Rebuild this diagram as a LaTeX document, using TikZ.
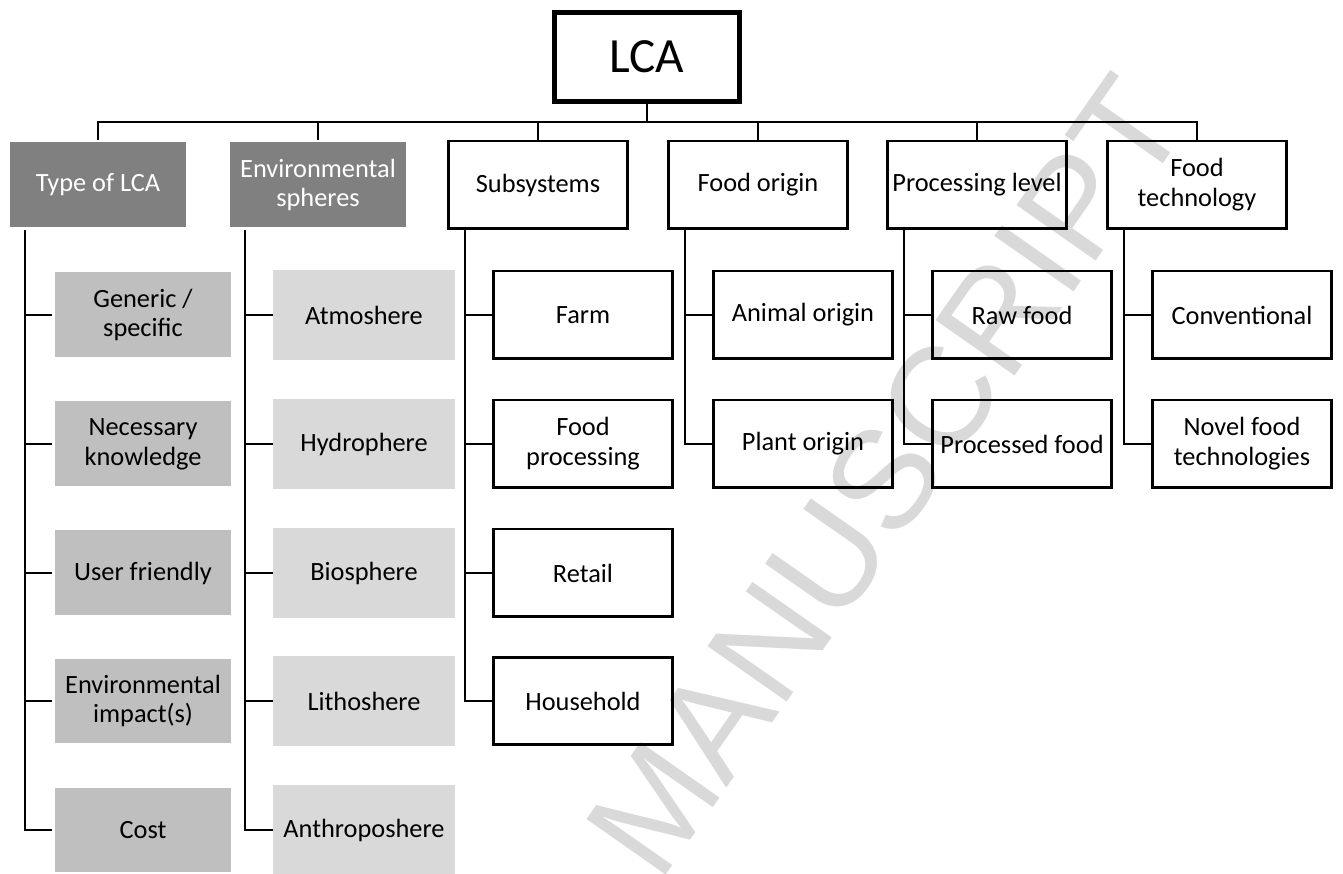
\documentclass[tikz,border=0pt]{standalone}
\usepackage{fontspec}
\setmainfont{Carlito}
\newfontfamily\markfont{Liberation Sans}

\begin{document}
\begin{tikzpicture}[x=0.02cm,y=-0.02cm,
  conn/.style={line width=1.25pt},
  box/.style={minimum width=3.58cm,minimum height=1.76cm,inner sep=1pt,
    align=center,font=\fontsize{15}{17}\selectfont,line width=1.7pt},
  whitebox/.style={box,draw=black},
  darkbox/.style={box,draw=white,fill=black!50,text=white},
  graybox/.style={box,draw=white,fill=black!25},
  lightbox/.style={box,draw=black!15,fill=black!15}]

\useasboundingbox (0,0) rectangle (1343,874);

% WATERMARK
\node[rotate=55,text=black!15,font=\markfont\fontsize{80}{80}\selectfont] (mark) at (886,476) {MANUSCRIPT};

% ROOT
\node[draw,line width=2.8pt,minimum width=3.7cm,minimum height=1.78cm,
  font=\fontsize{28}{30}\selectfont] (lca) at (647,57) {LCA};

% FIRST LEVEL
\node[darkbox] (type) at (98,185) {Type of LCA};
\node[darkbox] (spheres) at (318,185) {Environmental\\spheres};
\node[whitebox] (subsys) at (538,185) {Subsystems};
\node[whitebox] (origin) at (758,185) {Food origin};
\node[whitebox] (proclevel) at (977,185) {Processing level};
\node[whitebox] (foodtech) at (1197,185) {Food\\technology};

% type of LCA
\node[graybox] (t1) at (143,315) {Generic /\\specific};
\node[graybox] (t2) at (143,444) {Necessary\\knowledge};
\node[graybox] (t3) at (143,573) {User friendly};
\node[graybox] (t4) at (143,701) {Environmental\\impact(s)};
\node[graybox] (t5) at (143,830) {Cost};

% environmental spheres
\node[lightbox] (s1) at (364,315) {Atmoshere};
\node[lightbox] (s2) at (364,444) {Hydrophere};
\node[lightbox] (s3) at (364,573) {Biosphere};
\node[lightbox] (s4) at (364,701) {Lithoshere};
\node[lightbox] (s5) at (364,830) {Anthroposhere};

% subsystems
\node[whitebox] (b1) at (583,315) {Farm};
\node[whitebox] (b2) at (583,444) {Food\\processing};
\node[whitebox] (b3) at (583,573) {Retail};
\node[whitebox] (b4) at (583,701) {Household};

% food origin
\node[whitebox] (o1) at (803,315) {Animal origin};
\node[whitebox] (o2) at (803,444) {Plant origin};

% processing level
\node[whitebox] (p1) at (1022,315) {Raw food};
\node[whitebox] (p2) at (1022,444) {Processed food};

% food technology
\node[whitebox] (f1) at (1242,315) {Conventional};
\node[whitebox] (f2) at (1242,444) {Novel food\\technologies};

% CONNECTORS
% root to first level
\draw[conn] (lca.south) -- ++(0,18) -| (type.north);
\draw[conn] (lca.south) -- ++(0,18) -| (spheres.north);
\draw[conn] (lca.south) -- ++(0,18) -| (subsys.north);
\draw[conn] (lca.south) -- ++(0,18) -| (origin.north);
\draw[conn] (lca.south) -- ++(0,18) -| (proclevel.north);
\draw[conn] (lca.south) -- ++(0,18) -| (foodtech.north);

% type of LCA
\draw[conn] (type.south west) ++(18,0) |- (t1.west);
\draw[conn] (type.south west) ++(18,0) |- (t2.west);
\draw[conn] (type.south west) ++(18,0) |- (t3.west);
\draw[conn] (type.south west) ++(18,0) |- (t4.west);
\draw[conn] (type.south west) ++(18,0) |- (t5.west);

% environmental spheres
\draw[conn] (spheres.south west) ++(18,0) |- (s1.west);
\draw[conn] (spheres.south west) ++(18,0) |- (s2.west);
\draw[conn] (spheres.south west) ++(18,0) |- (s3.west);
\draw[conn] (spheres.south west) ++(18,0) |- (s4.west);
\draw[conn] (spheres.south west) ++(18,0) |- (s5.west);

% subsystems
\draw[conn] (subsys.south west) ++(18,0) |- (b1.west);
\draw[conn] (subsys.south west) ++(18,0) |- (b2.west);
\draw[conn] (subsys.south west) ++(18,0) |- (b3.west);
\draw[conn] (subsys.south west) ++(18,0) |- (b4.west);

% food origin
\draw[conn] (origin.south west) ++(18,0) |- (o1.west);
\draw[conn] (origin.south west) ++(18,0) |- (o2.west);

% processing level
\draw[conn] (proclevel.south west) ++(18,0) |- (p1.west);
\draw[conn] (proclevel.south west) ++(18,0) |- (p2.west);

% food technology
\draw[conn] (foodtech.south west) ++(18,0) |- (f1.west);
\draw[conn] (foodtech.south west) ++(18,0) |- (f2.west);

\end{tikzpicture}
\end{document}
